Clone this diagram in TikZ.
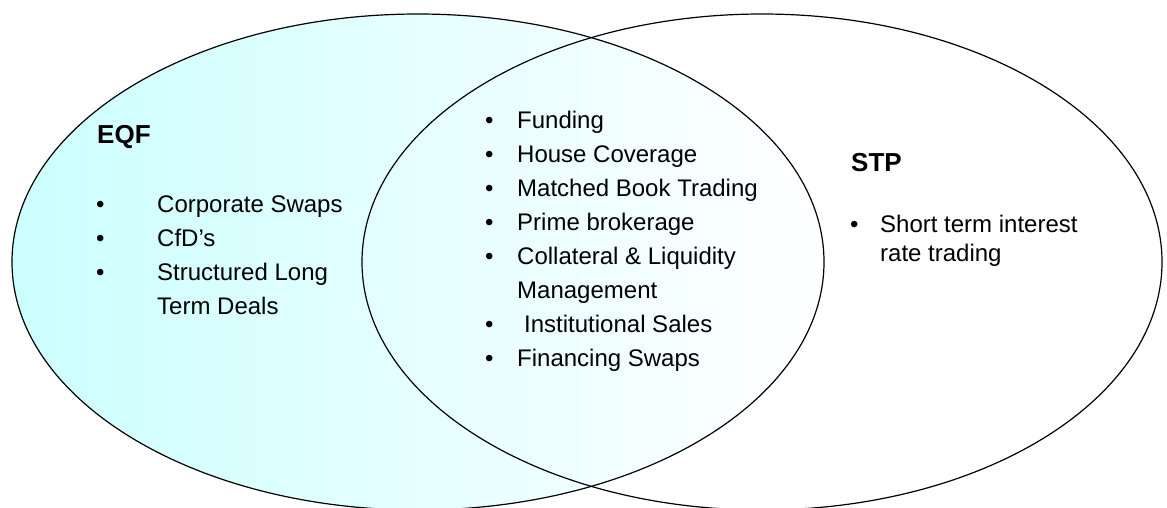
\documentclass[tikz,border=0pt]{standalone}
\usepackage{fontspec}
\setmainfont{Liberation Sans}
\usetikzlibrary{shapes.geometric}
\definecolor{eqfcyan}{RGB}{204,255,255}
\begin{document}
\begin{tikzpicture}[x=1pt,y=-1pt,
  setshape/.style={ellipse, draw=black, line width=1.2pt, inner sep=0pt, outer sep=0pt},
  itemtxt/.style={anchor=base west, inner sep=0pt, font=\fontsize{24}{24}\selectfont},
  headtxt/.style={anchor=base west, inner sep=0pt, font=\fontsize{26}{26}\selectfont\bfseries}]
\useasboundingbox (0,0) rectangle (1167,507);
\clip (0,0) rectangle (1167,507);
\node[setshape, minimum width=812pt, minimum height=496pt, left color=eqfcyan, right color=white] (eqf) at (418,262) {};
\node[setshape, minimum width=800pt, minimum height=496pt] (stp) at (762,262) {};
% EQF
\node[headtxt] (eqfh) at (97,143) {EQF};
\node[itemtxt] (b1) at (96,212) {•};
\node[itemtxt] (e1) at (157,212) {Corporate Swaps};
\node[itemtxt] (b2) at (96,246) {•};
\node[itemtxt] (e2) at (157,246) {CfD’s};
\node[itemtxt] (b3) at (96,280) {•};
\node[itemtxt] (e3) at (157,280) {Structured Long};
\node[itemtxt] (e3b) at (157,314) {Term Deals};
% common
\node[itemtxt] (c1b) at (485,128) {•};
\node[itemtxt] (c1) at (517,128) {Funding};
\node[itemtxt] (c2b) at (485,162) {•};
\node[itemtxt] (c2) at (517,162) {House Coverage};
\node[itemtxt] (c3b) at (485,196) {•};
\node[itemtxt] (c3) at (517,196) {Matched Book Trading};
\node[itemtxt] (c4b) at (485,230) {•};
\node[itemtxt] (c4) at (517,230) {Prime brokerage};
\node[itemtxt] (c5b) at (485,264) {•};
\node[itemtxt] (c5) at (517,264) {Collateral \& Liquidity};
\node[itemtxt] (c5c) at (517,298) {Management};
\node[itemtxt] (c6b) at (485,332) {•};
\node[itemtxt] (c6) at (524,332) {Institutional Sales};
\node[itemtxt] (c7b) at (485,366) {•};
\node[itemtxt] (c7) at (517,366) {Financing Swaps};
% STP
\node[headtxt] (stph) at (851,171) {STP};
\node[itemtxt] (s1b) at (850,232) {•};
\node[itemtxt] (s1) at (880,232) {Short term interest};
\node[itemtxt] (s1c) at (880,261) {rate trading};
\end{tikzpicture}
\end{document}
